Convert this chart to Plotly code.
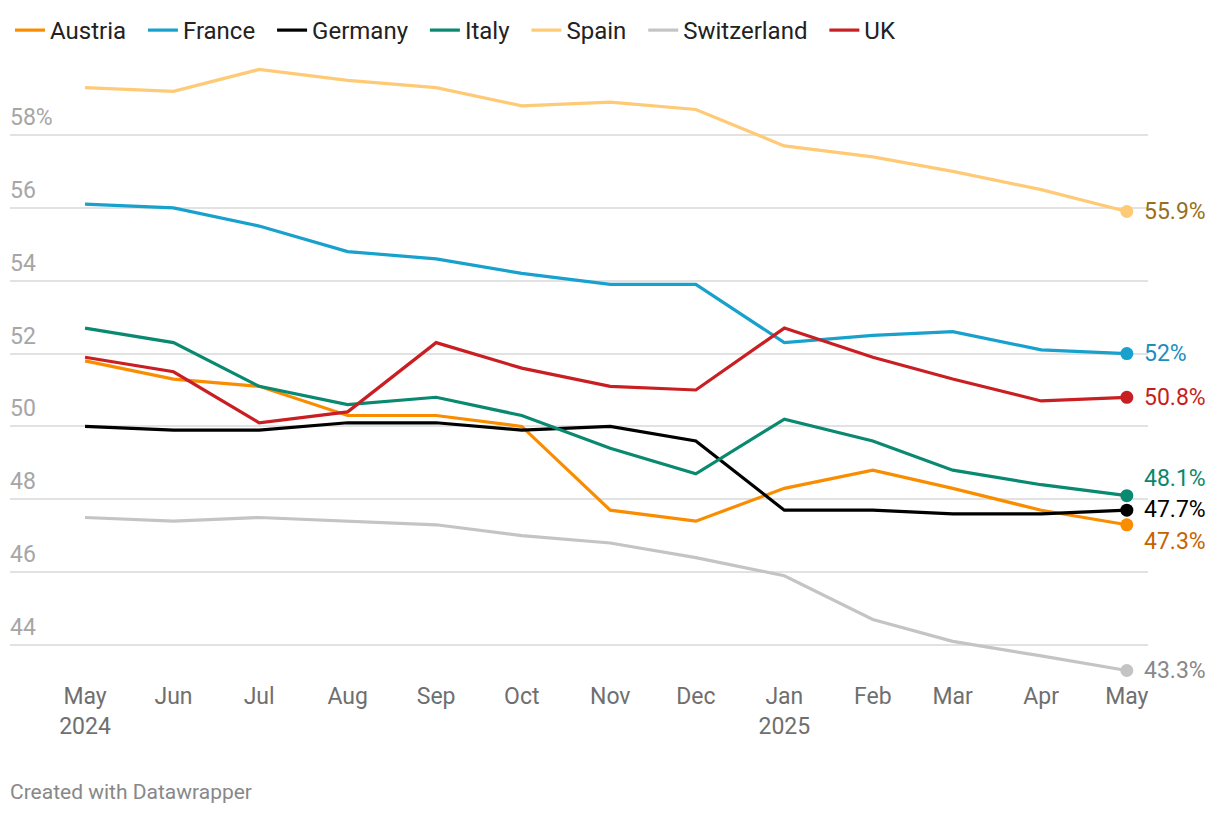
import plotly.graph_objects as go

months = ["2024-05-01", "2024-06-01", "2024-07-01", "2024-08-01", "2024-09-01", "2024-10-01",
          "2024-11-01", "2024-12-01", "2025-01-01", "2025-02-01", "2025-03-01", "2025-04-01",
          "2025-05-01"]
tick_text = ["May<br>2024", "Jun", "Jul", "Aug", "Sep", "Oct", "Nov", "Dec", "Jan<br>2025",
             "Feb", "Mar", "Apr", "May"]

austria = [51.8, 51.3, 51.1, 50.3, 50.3, 50.0, 47.7, 47.4, 48.3, 48.8, 48.3, 47.7, 47.3]
france = [56.1, 56.0, 55.5, 54.8, 54.6, 54.2, 53.9, 53.9, 52.3, 52.5, 52.6, 52.1, 52.0]
germany = [50.0, 49.9, 49.9, 50.1, 50.1, 49.9, 50.0, 49.6, 47.7, 47.7, 47.6, 47.6, 47.7]
italy = [52.7, 52.3, 51.1, 50.6, 50.8, 50.3, 49.4, 48.7, 50.2, 49.6, 48.8, 48.4, 48.1]
spain = [59.3, 59.2, 59.8, 59.5, 59.3, 58.8, 58.9, 58.7, 57.7, 57.4, 57.0, 56.5, 55.9]
switzerland = [47.5, 47.4, 47.5, 47.4, 47.3, 47.0, 46.8, 46.4, 45.9, 44.7, 44.1, 43.7, 43.3]
uk = [51.9, 51.5, 50.1, 50.4, 52.3, 51.6, 51.1, 51.0, 52.7, 51.9, 51.3, 50.7, 50.8]

y_ticks = [44, 46, 48, 50, 52, 54, 56, 58]

series = [
    ("Austria", austria, "#fa8c00", "#c46400", -17),
    ("France", france, "#18a1cd", "#1a8fbf", 0),
    ("Germany", germany, "#000000", "#000000", 1),
    ("Italy", italy, "#09896f", "#09886e", 17),
    ("Spain", spain, "#ffca76", "#9a6f1a", 0),
    ("Switzerland", switzerland, "#c4c4c4", "#888888", 0),
    ("UK", uk, "#c91f23", "#c71e1d", 0),
]

fig = go.Figure()
annotations = []
for name, vals, col, lcol, shift in series:
    fig.add_trace(go.Scatter(
        x=months, y=vals, mode="lines", name=name + "\u00a0\u00a0",
        line=dict(color=col, width=3.2), cliponaxis=False,
    ))
    fig.add_trace(go.Scatter(
        x=[months[-1]], y=[vals[-1]], mode="markers", showlegend=False,
        marker=dict(color=col, size=13), cliponaxis=False, hoverinfo="skip",
    ))
    label = f"{vals[-1]:g}%"
    annotations.append(dict(
        x=months[-1], y=vals[-1], xref="x", yref="y", text=label,
        showarrow=False, xanchor="left", yanchor="middle", xshift=15, yshift=shift,
        font=dict(size=23, color=lcol, family="Roboto"),
    ))

for v in y_ticks:
    annotations.append(dict(
        x=0, xref="paper", y=v, yref="y", text=f"{v}%" if v == 58 else str(v),
        showarrow=False, xanchor="left", yanchor="bottom", yshift=2, xshift=-2,
        font=dict(size=23, color="#a6a6a6", family="Roboto"),
    ))

annotations.append(dict(
    x=0, xref="paper", y=-0.182, yref="paper", text="Created with Datawrapper",
    showarrow=False, xanchor="left", yanchor="middle", xshift=-2,
    font=dict(size=21, color="#888888", family="Roboto"),
))

fig.update_layout(
    width=1220, height=816,
    margin=dict(l=10, r=72, t=62, b=136),
    paper_bgcolor="white", plot_bgcolor="white",
    font=dict(family="Roboto", color="#333333"),
    showlegend=True,
    legend=dict(orientation="h", x=0, xanchor="left", y=1 - 8 / 816, yanchor="top",
                yref="container", font=dict(size=24, color="#222222"),
                itemwidth=30, tracegroupgap=0),
    xaxis=dict(type="date", range=["2024-04-04 17:00", "2025-05-08 10:00"],
               tickvals=months, ticktext=tick_text, showgrid=False, zeroline=False,
               showline=False, ticks="", tickfont=dict(size=23, color="#6f6f6f"),
               ticklabelstandoff=0),
    yaxis=dict(range=[43.039, 60.004], tickvals=y_ticks, showticklabels=False,
               showgrid=True, gridcolor="#e2e2e2", gridwidth=2, zeroline=False,
               showline=False, ticks=""),
    annotations=annotations,
)

fig.write_html("out.html", post_script="document.body.style.margin='0';",
               config={"displayModeBar": False})
